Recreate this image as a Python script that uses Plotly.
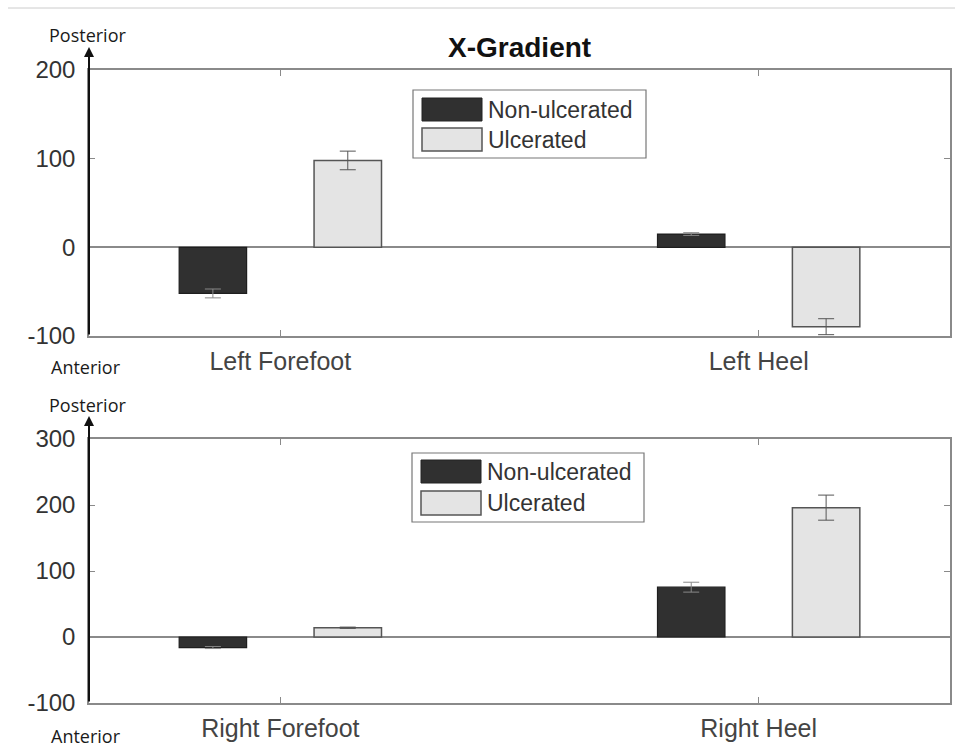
import plotly.graph_objects as go
from plotly.subplots import make_subplots

W, H = 955, 751

top_categories = ["Left Forefoot", "Left Heel"]
bottom_categories = ["Right Forefoot", "Right Heel"]
series_names = ["Non-ulcerated", "Ulcerated"]

top_non = [-52, 15]
top_non_err = [5, 1.5]
top_ulc = [98, -89.5]
top_ulc_err = [10.5, 9]

bot_non = [-16, 75.5]
bot_non_err = [1.5, 7.5]
bot_ulc = [14, 196]
bot_ulc_err = [1, 19]

top_ticks = [-100, 0, 100, 200]
top_tick_text = ["-100", "0", "100", "200"]
bot_ticks = [-100, 0, 100, 200, 300]
bot_tick_text = ["-100", "0", "100", "200", "300"]

FONT = "Liberation Sans, Arial, sans-serif"
DARK = "#303030"
LIGHT = "#e4e4e4"
AXC = "#8a8a8a"


def px(x):
    return x / W


def py(y):
    return 1 - y / H


fig = make_subplots(rows=2, cols=1)

for row, cats, non, non_e, ulc, ulc_e in [
    (1, top_categories, top_non, top_non_err, top_ulc, top_ulc_err),
    (2, bottom_categories, bot_non, bot_non_err, bot_ulc, bot_ulc_err),
]:
    fig.add_trace(go.Bar(x=cats, y=non, name=series_names[0], marker=dict(color=DARK, line=dict(color="#1e1e1e", width=1.2)),
                         error_y=dict(type="data", array=non_e, color="#888888", thickness=1, width=8), showlegend=False), row=row, col=1)
    fig.add_trace(go.Bar(x=cats, y=ulc, name=series_names[1], marker=dict(color=LIGHT, line=dict(color="#555555", width=1.5)),
                         error_y=dict(type="data", array=ulc_e, color="#555555", thickness=1, width=8), showlegend=False), row=row, col=1)

xdom = [px(89), px(950)]
fig.update_layout(
    width=W, height=H, margin=dict(l=0, r=0, t=0, b=0, autoexpand=False),
    paper_bgcolor="white", plot_bgcolor="white",
    barmode="group", bargap=0.436, bargroupgap=0.5,
    font=dict(family=FONT, color="#333333"),
    showlegend=False,
)

axis_common = dict(showline=True, linecolor=AXC, linewidth=1.5, mirror="allticks", ticks="inside",
                   ticklen=6, tickcolor=AXC, showgrid=False, automargin=False)
fig.update_xaxes(domain=xdom, range=[-0.4, 1.4], tickfont=dict(size=25, color="#444444"),
                 ticklabelstandoff=2, **axis_common)
fig.update_yaxes(zeroline=True, zerolinecolor=AXC, zerolinewidth=1.5,
                 tickfont=dict(size=24, color="#333333"), ticklabelstandoff=7, **axis_common)
fig.update_yaxes(row=1, col=1, domain=[py(336), py(70)], range=[-100, 200], tickvals=top_ticks, ticktext=top_tick_text)
fig.update_yaxes(row=2, col=1, domain=[py(703), py(439)], range=[-100, 300], tickvals=bot_ticks, ticktext=bot_tick_text)

shapes = []
annotations = []

# thin top rule
shapes.append(dict(type="line", xref="paper", yref="paper", x0=px(8), x1=1, y0=py(8), y1=py(8),
                   line=dict(color="#cccccc", width=1)))

# title
annotations.append(dict(text="<b>X-Gradient</b>", xref="paper", yref="paper", x=px(519.5), y=py(47),
                        showarrow=False, font=dict(size=28, color="#111111", family=FONT), xanchor="center", yanchor="middle"))

# axis arrows and direction labels
for bottom, tip, post_y, ant_y in [(336, 47, 35, 367), (703, 416, 405, 736)]:
    annotations.append(dict(x=px(89), y=py(tip), xref="paper", yref="paper", ax=0, ay=bottom - tip,
                            showarrow=True, arrowhead=2, arrowsize=1, arrowwidth=2, arrowcolor="#111111", text=""))
    annotations.append(dict(text="Posterior", xref="paper", yref="paper", x=px(87), y=py(post_y), showarrow=False,
                            font=dict(size=18, color="#1a1a1a", family="Open Sans, sans-serif"), xanchor="center", yanchor="middle"))
    annotations.append(dict(text="Anterior", xref="paper", yref="paper", x=px(86), y=py(ant_y), showarrow=False,
                            font=dict(size=18, color="#1a1a1a", family="Open Sans, sans-serif"), xanchor="center", yanchor="middle"))

# legends (drawn boxes)
for (bx0, by0, bx1, by1), (s1y0, s1y1), (s2y0, s2y1) in [
    ((413, 90, 646, 158), (98, 121), (128, 151)),
    ((412, 453, 644, 522), (460, 483), (491, 515)),
]:
    shapes.append(dict(type="rect", xref="paper", yref="paper", x0=px(bx0), x1=px(bx1), y0=py(by1), y1=py(by0),
                       line=dict(color="#777777", width=1.2), fillcolor="white"))
    shapes.append(dict(type="rect", xref="paper", yref="paper", x0=px(bx0 + 9), x1=px(bx0 + 69), y0=py(s1y1), y1=py(s1y0),
                       line=dict(color="#222222", width=1), fillcolor=DARK))
    shapes.append(dict(type="rect", xref="paper", yref="paper", x0=px(bx0 + 9), x1=px(bx0 + 69), y0=py(s2y1), y1=py(s2y0),
                       line=dict(color="#555555", width=1.5), fillcolor=LIGHT))
    annotations.append(dict(text=series_names[0], xref="paper", yref="paper", x=px(bx0 + 73), y=py((s1y0 + s1y1) / 2),
                            showarrow=False, xanchor="left", yanchor="middle", font=dict(size=23, color="#333333", family=FONT)))
    annotations.append(dict(text=series_names[1], xref="paper", yref="paper", x=px(bx0 + 73), y=py((s2y0 + s2y1) / 2),
                            showarrow=False, xanchor="left", yanchor="middle", font=dict(size=23, color="#333333", family=FONT)))

fig.update_layout(shapes=shapes, annotations=annotations)
fig.write_html("out.html")
